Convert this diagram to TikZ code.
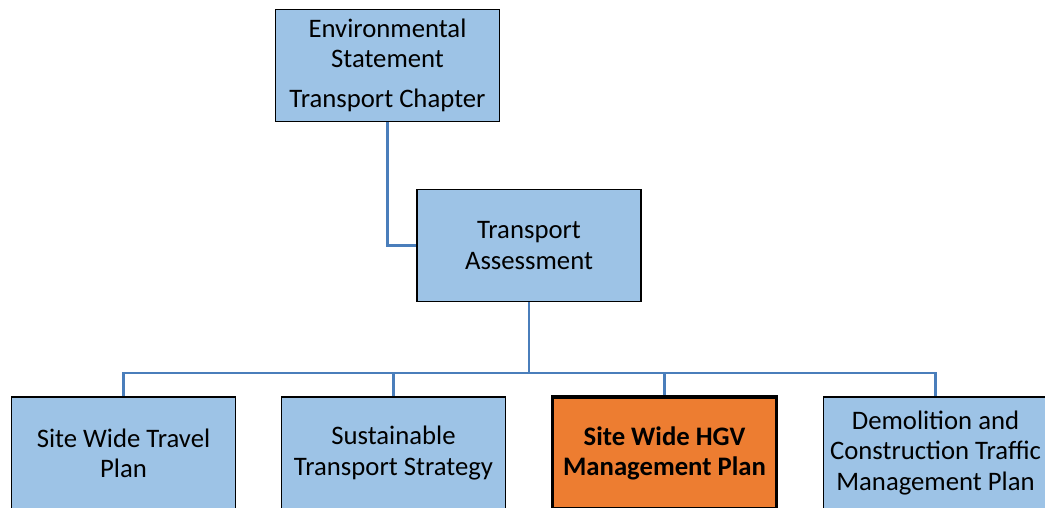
\documentclass[tikz,border=0pt]{standalone}
\usepackage{fontspec}
\setmainfont{Carlito}
\usepackage{tikz}
\usetikzlibrary{positioning}
\definecolor{planfill}  {RGB}{157,195,230}
\definecolor{hgvfill}   {RGB}{237,125,49}
\definecolor{linkline}  {RGB}{74,126,187}
\tikzset{plan box/.style={
    rectangle, fill=planfill,
    draw=black, line width=1.2pt,
    align=center, inner sep=2pt,
    minimum width=5.6cm, minimum height=2.8cm,
    font=\fontsize{19}{21.5}\selectfont
}}
\tikzset{hgv box/.style={
    plan box, fill=hgvfill,
    line width=2.6pt,
    font=\fontsize{19}{21.5}\selectfont\bfseries
}}
\tikzset{link/.style={
    draw=linkline, line width=1.8pt
}}

\begin{document}
\begin{tikzpicture}[x=0.025cm, y=-0.025cm]
            \useasboundingbox (0,0) rectangle (1045,507);

            \node (es)     [plan box]  at(387.5,65.5)  {Environmental\\Statement\\[7pt]Transport Chapter};
            \node (ta)     [plan box]  at(529,245.5)   {Transport\\Assessment};

            \node (swtp)   [plan box]  at(123.5,453)   {Site Wide Travel\\Plan};
            \node (sts)    [plan box]  at(393.5,453)   {Sustainable\\Transport Strategy};
            \node (hgv)    [hgv box]   at(664.5,453)   {Site Wide HGV\\Management Plan};
            \node (dctmp)  [plan box]  at(935.5,453)   {Demolition and\\Construction Traffic\\Management Plan};

            \coordinate (bus) at (529,373);

            % edges
            \path [link]
              (es.south) |- (ta.west)
              (ta.south) -- (bus)
              (swtp.north) |- (bus) -| (dctmp.north)
              (sts.north) -- (sts.north |- bus)
              (hgv.north) -- (hgv.north |- bus)
              ;
        \end{tikzpicture}
\end{document}
